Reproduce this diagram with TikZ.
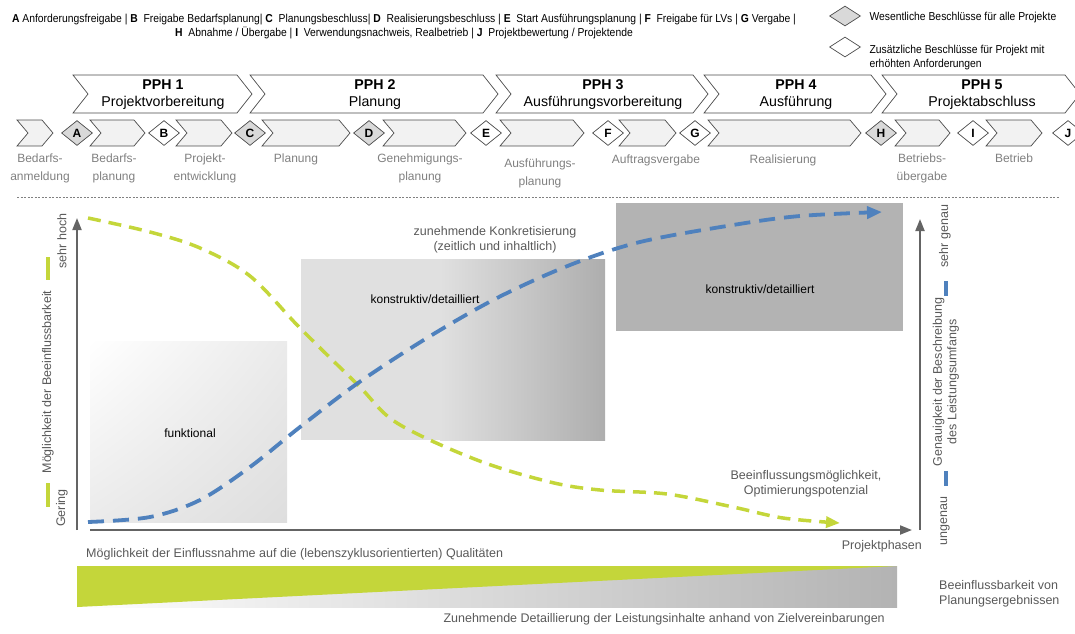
\documentclass[tikz,border=0pt]{standalone}
\usepackage{fontspec}
\setmainfont{Liberation Sans}
\newfontfamily\narrowsans[FakeStretch=0.9]{Liberation Sans}
\usetikzlibrary{arrows.meta,shapes.geometric,shadings}

\definecolor{lgreen}{RGB}{196,214,58}
\definecolor{lblue}{RGB}{79,129,189}
\definecolor{axisgray}{RGB}{100,100,100}
\definecolor{txtgray}{RGB}{89,89,89}
\definecolor{subgray}{RGB}{128,128,128}
\definecolor{chevfill}{RGB}{242,242,242}
\definecolor{diagray}{RGB}{217,217,217}
\definecolor{boxdark}{RGB}{179,179,179}
\definecolor{boxlight}{RGB}{224,224,224}

\begin{document}
\begin{tikzpicture}[x=1pt,y=-1pt,font=\fontsize{12}{14}\selectfont,
  pph/.style={draw=black!70,fill=white,line width=0.7pt},
  subchev/.style={draw=black!70,fill=chevfill,line width=0.7pt},
  gate/.style={diamond,draw=black!70,line width=0.7pt,minimum width=31pt,minimum height=25pt,inner sep=0pt,font=\fontsize{12}{12}\selectfont\bfseries},
  keygate/.style={gate,fill=diagray},
  optgate/.style={gate,fill=white},
  phase/.style={align=center,font=\fontsize{14.2}{16.5}\selectfont},
  steplbl/.style={text=subgray,align=center,anchor=north,inner sep=0pt,font=\fontsize{12}{17.5}\selectfont},
  chartlbl/.style={text=txtgray,align=center,font=\fontsize{12.5}{14.5}\selectfont},
  keytxt/.style={anchor=west,align=left,font=\narrowsans\fontsize{11.5}{14}\selectfont},
  axis/.style={axisgray,line width=2pt,-{Triangle[length=12pt,width=9pt]}},
  greenline/.style={lgreen,line width=3.5pt,dash pattern=on 13pt off 8pt,-{Triangle[length=14pt,width=11pt]}},
  blueline/.style={lblue,line width=3.8pt,dash pattern=on 16pt off 9pt,-{Triangle[length=15pt,width=12pt]}}]
\useasboundingbox (0,0) rectangle (1075,633);

% legend of decisions
\node[anchor=north,align=center,inner sep=0pt,font=\narrowsans\fontsize{11.5}{14.5}\selectfont] (decisions) at (404,13.5)
  {\textbf{A} Anforderungsfreigabe | \textbf{B}\ \ Freigabe Bedarfsplanung| \textbf{C}\ \ Planungsbeschluss| \textbf{D}\ \ Realisierungsbeschluss | \textbf{E}\ \ Start Ausführungsplanung | \textbf{F}\ \ Freigabe für LVs | \textbf{G} Vergabe |\\
   \textbf{H}\ \ Abnahme / Übergabe | \textbf{I}\ \ Verwendungsnachweis, Realbetrieb | \textbf{J}\ \ Projektbewertung / Projektende};
\node[keygate,minimum height=20pt] (keyA) at (845,16) {};
\node[optgate,minimum height=20pt] (keyB) at (845,47) {};
\node[keytxt] (keyAtxt) at (866,18) {Wesentliche Beschlüsse für alle Projekte};
\node[keytxt] (keyBtxt) at (866,57.5) {Zusätzliche Beschlüsse für Projekt mit\\erhöhten Anforderungen};

% project phases
\foreach \l/\r in {73/252,250/498,496/708,704/886,882/1080}
  \draw[pph] (\l,75) -- (\r-15,75) -- (\r,94) -- (\r-15,113) -- (\l,113) -- (\l+15,94) -- cycle;
\node[phase] (pph1) at (163,94.5) {\textbf{PPH 1}\\Projektvorbereitung};
\node[phase] (pph2) at (375,94.5) {\textbf{PPH 2}\\Planung};
\node[phase] (pph3) at (603,94.5) {\textbf{PPH 3}\\Ausführungsvorbereitung};
\node[phase] (pph4) at (796,94.5) {\textbf{PPH 4}\\Ausführung};
\node[phase] (pph5) at (982,94.5) {\textbf{PPH 5}\\Projektabschluss};

% steps and gates
\foreach \l/\r in {17/53,90/145,176/232,262/350,383/466,500/584,619/676,708/861,895/950,986/1042}
  \draw[subchev] (\l,120) -- (\r-11,120) -- (\r,133) -- (\r-11,146) -- (\l,146) -- (\l+11,133) -- cycle;
\node[keygate] (gA) at (77,133) {A};
\node[optgate] (gB) at (164,133) {B};
\node[keygate] (gC) at (250,133) {C};
\node[keygate] (gD) at (369,133) {D};
\node[optgate] (gE) at (486,133) {E};
\node[optgate] (gF) at (608,133) {F};
\node[optgate] (gG) at (695,133) {G};
\node[keygate] (gH) at (881,133) {H};
\node[optgate] (gI) at (973,133) {I};
\node[optgate] (gJ) at (1068,133) {J};

\node[steplbl] (sBedarf) at (40,154) {Bedarfs-\\anmeldung};
\node[steplbl] (sBedplan) at (114,154) {Bedarfs-\\planung};
\node[steplbl] (sProjekt) at (205,154) {Projekt-\\entwicklung};
\node[steplbl] (sPlanung) at (296,154) {Planung};
\node[steplbl] (sGenehm) at (420,154) {Genehmigungs-\\planung};
\node[steplbl] (sAusf) at (540,159) {Ausführungs-\\planung};
\node[steplbl] (sVergabe) at (656,155) {Auftragsvergabe};
\node[steplbl] (sReal) at (783,155) {Realisierung};
\node[steplbl] (sBetrUeb) at (922,154) {Betriebs-\\übergabe};
\node[steplbl] (sBetrieb) at (1014,154) {Betrieb};

\draw[gray,line width=0.5pt,dash pattern=on 2pt off 1.5pt] (17,197) -- (1060,197);

% boxes
\shade[upper left=white,upper right=black!8,lower left=black!8,lower right=black!13] (90,341) rectangle (287,522);
\fill[boxlight] (301,259) rectangle (440,440);
\shade[left color=boxlight,right color=boxdark!97!black] (440,259) rectangle (605,440);
\fill[boxdark] (616,203) rectangle (903,331);
\node (funk) at (190,433) {funktional};
\node (konstr1) at (425,299) {konstruktiv/detailliert};
\node (konstr2) at (760,289) {konstruktiv/detailliert};

% axes
\coordinate (orig) at (77,530);
\coordinate (ytop) at (77,218);
\coordinate (xstart) at (90,530);
\coordinate (xend) at (912,530);
\coordinate (rbot) at (920,530);
\coordinate (rtop) at (920,219);
\draw[axis] (orig) -- (ytop);
\draw[axis] (xstart) -- (xend);
\draw[axis] (rbot) -- (rtop);

% curves
\draw[greenline] plot[smooth,tension=0.55] coordinates {(88,218) (150,232) (200,248) (250,276) (300,328) (358,385) (397,423) (477,460) (550,482) (600,490) (667,494) (733,507) (783,518) (840,523)};
\draw[blueline] plot[smooth,tension=0.55] coordinates {(88,522) (150,517) (200,500) (250,467) (300,427) (358,383) (427,338) (497,298) (570,265) (640,242) (733,225) (800,216) (882,212)};

% axis labels
\node[chartlbl] (konkret) at (495,240) {zunehmende Konkretisierung\\(zeitlich und inhaltlich)};
\node[chartlbl] (beeinfl) at (806,484) {Beeinflussungsmöglichkeit,\\Optimierungspotenzial};
\node[chartlbl,anchor=east,inner sep=0pt] (phasen) at (922,546) {Projektphasen};
\node[chartlbl,rotate=90] (hoch) at (62,241) {sehr hoch};
\node[chartlbl,rotate=90] (moegl) at (48,382) {Möglichkeit der Beeinflussbarkeit};
\node[chartlbl,rotate=90] (gering) at (62,508) {Gering};
\node[chartlbl,rotate=90] (genau) at (945,236) {sehr genau};
\node[chartlbl,rotate=90] (ungenau) at (945,521) {ungenau};
\node[chartlbl,rotate=90] (genauigkeit) at (946,382) {Genauigkeit der Beschreibung\\des Leistungsumfangs};
\draw[lgreen,line width=3.5pt] (48,257) -- (48,280);
\draw[lgreen,line width=3.5pt] (48,483) -- (48,507);
\draw[lblue,line width=3.5pt] (946,281) -- (946,296);
\draw[lblue,line width=3.5pt] (946,471) -- (946,486);

% band
\node[chartlbl,anchor=west,inner sep=0pt] (qual) at (86,554) {Möglichkeit der Einflussnahme auf die (lebenszyklusorientierten) Qualitäten};
\shade[left color=white,right color=boxdark] (77,566) rectangle (897,607);
\fill[lgreen] (77,566) -- (897,566) -- (77,607) -- cycle;
\node[chartlbl,anchor=east,inner sep=0pt] (detail) at (885,619) {Zunehmende Detaillierung der Leistungsinhalte anhand von Zielvereinbarungen};
\node[chartlbl,anchor=west,align=left,inner sep=0pt] (planerg) at (939,594) {Beeinflussbarkeit von\\Planungsergebnissen};
\end{tikzpicture}
\end{document}
